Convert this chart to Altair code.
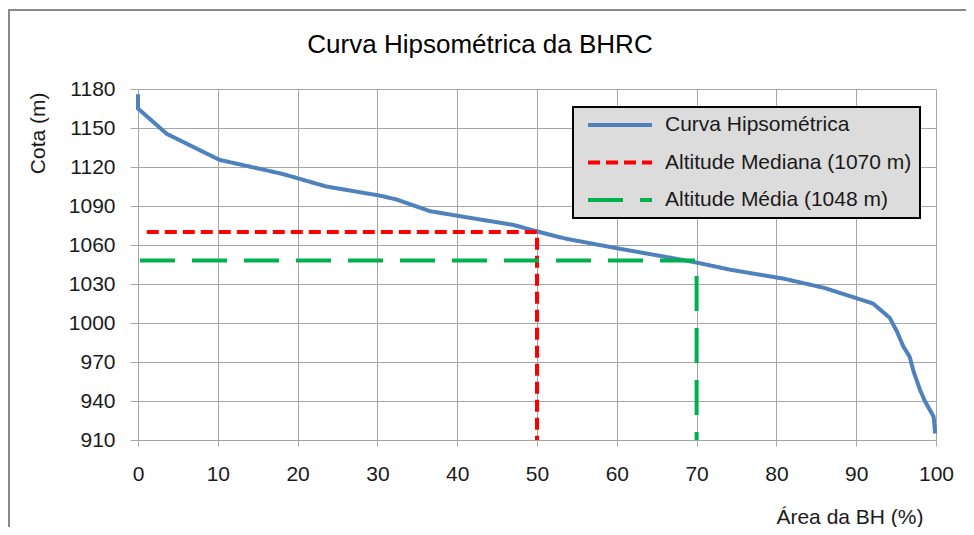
import altair as alt
import pandas as pd

# ---- data ----
series_names = ["Curva Hipsométrica", "Altitude Mediana (1070 m)", "Altitude Média (1048 m)"]
series_colors = ["#4f81bd", "#ff0000", "#00b050"]

area_curve = [0, 0, 3.6, 10.2, 15.7, 18.2, 23.6, 30.3, 32.4, 36.6, 41, 47, 50, 53.5, 60,
              66, 70, 74.2, 81, 86, 92.1, 94.2, 95.1, 95.9, 96.7, 97.2, 98.0, 98.6, 99.7, 99.9]
cota_curve = [1176, 1165, 1145.5, 1125.5, 1118, 1114.5, 1105, 1098, 1095, 1086, 1081.5, 1075.5,
              1070.5, 1065, 1057.5, 1051, 1046.5, 1041, 1034, 1027, 1015, 1004, 993.5, 982,
              974, 962.5, 948.5, 940, 928, 915]

median_area = [1.1, 50, 50]
median_cota = [1070, 1070, 910]

mean_area = [0.25, 70, 70]
mean_cota = [1048, 1048, 910]

x_ticks = [0, 10, 20, 30, 40, 50, 60, 70, 80, 90, 100]
y_ticks = [910, 940, 970, 1000, 1030, 1060, 1090, 1120, 1150, 1180]

# ---- table ----
rows = []
for name, xs, ys in [(series_names[0], area_curve, cota_curve),
                     (series_names[1], median_area, median_cota),
                     (series_names[2], mean_area, mean_cota)]:
    for i, (a, c) in enumerate(zip(xs, ys)):
        rows.append({"serie": name, "area": a, "cota": c, "i": i})
df = pd.DataFrame(rows)

FONT = "Liberation Sans"
GRID = "#a6a6a6"
TXT = "#1a1a1a"

legend = alt.Legend(
    title=None, orient="none", legendX=435, legendY=18,
    symbolType="stroke", symbolSize=4096, symbolStrokeWidth=4,
    clipHeight=20, rowPadding=16.5, padding=8, symbolOffset=5,
    labelFontSize=21, labelFont=FONT, labelColor=TXT, labelOffset=11, labelLimit=500,
    fillColor="#dcdcdc", strokeColor="black", zindex=1,
)

lines = alt.Chart(df).mark_line(strokeWidth=4).encode(
    x=alt.X("area:Q", scale=alt.Scale(domain=[0, 100], nice=False),
            axis=alt.Axis(values=x_ticks, title="Área da BH (%)", titleAnchor="end",
                          titleAlign="right", titleX=785, titleY=83, titleBaseline="alphabetic",
                          tickSize=6, labelPadding=17, labelFlush=False)),
    y=alt.Y("cota:Q", scale=alt.Scale(domain=[910, 1180], nice=False),
            axis=alt.Axis(values=y_ticks, format="d", title="Cota (m)", titleAngle=270,
                          titleAlign="right", titleBaseline="alphabetic", titleX=-94, titleY=3,
                          tickSize=8, labelPadding=15, labelFlush=False)),
    color=alt.Color("serie:N", scale=alt.Scale(domain=series_names, range=series_colors),
                    legend=legend),
    strokeDash=alt.StrokeDash("serie:N",
                              scale=alt.Scale(domain=series_names,
                                              range=[[1, 0], [12, 6], [35, 17]]),
                              legend=legend),
    order="i:Q",
)

frame = alt.Chart(pd.DataFrame({"k": [0]})).mark_rect(
    fill="transparent", stroke="#898989", strokeWidth=2
).encode(
    x=alt.value(-129), x2=alt.value(860), y=alt.value(-79), y2=alt.value(480)
)

chart = alt.layer(frame, lines).properties(
    width=798, height=351,
    padding={"left": 130, "top": 81, "right": 30, "bottom": 87},
    autosize=alt.AutoSizeParams(type="none"),
    title=alt.TitleParams("Curva Hipsométrica da BHRC", fontSize=26, font=FONT,
                          fontWeight="normal", color="black", anchor="middle",
                          frame="group", dx=-57, offset=-49),
).configure(
    font=FONT,
).configure_axis(
    gridColor=GRID, gridWidth=1, domainColor=GRID, tickColor=GRID,
    labelFontSize=21, labelFont=FONT, labelColor=TXT,
    titleFontSize=21, titleFont=FONT, titleColor=TXT, titleFontWeight="normal",
).configure_legend(
    strokeWidth=2,
).configure_view(
    strokeWidth=0,
)

chart.save("out.html", embed_options={"renderer": "svg", "actions": False})
